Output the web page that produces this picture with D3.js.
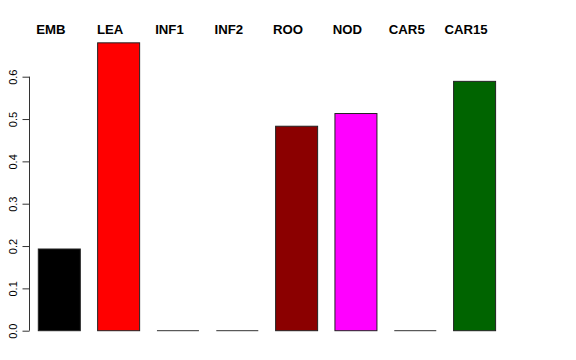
<!DOCTYPE html>
<html>
<head>
<meta charset="utf-8">
<script src="https://cdn.jsdelivr.net/npm/d3@7"></script>
<style>
  body { margin: 0; background: #fff; }
  text { font-family: "Liberation Sans", Arial, sans-serif; }
</style>
</head>
<body>
<div id="chart"></div>
<script>
// chart size
var width = 576;
var height = 360;

// data
var categories = ["EMB", "LEA", "INF1", "INF2", "ROO", "NOD", "CAR5", "CAR15"];
var values = [0.193, 0.680, 0, 0, 0.483, 0.513, 0, 0.589];
var barColors = ["#000000", "#ff0000", "#0000ff", "#ffa500", "#8b0000", "#ff00ff", "#00ffff", "#006400"];
var tickValues = [0, 0.1, 0.2, 0.3, 0.4, 0.5, 0.6];

var svg = d3.select("#chart").append("svg")
  .attr("width", width)
  .attr("height", height);

var x = d3.scaleBand()
  .domain(categories)
  .range([38.3, 495.6])
  .paddingInner(0.292)
  .paddingOuter(0);

var y = d3.scaleLinear()
  .domain([0, 0.6])
  .range([330.7, 76.7]);

// bars
svg.append("g").selectAll("rect")
  .data(categories)
  .enter().append("rect")
  .attr("x", d => x(d))
  .attr("y", (d, i) => y(values[i]))
  .attr("width", x.bandwidth())
  .attr("height", (d, i) => y(0) - y(values[i]))
  .attr("fill", (d, i) => barColors[i])
  .attr("stroke", "#222")
  .attr("stroke-width", 1);

// zero-height bars still show a line
svg.append("g").selectAll("line")
  .data(categories.filter((d, i) => values[i] == 0))
  .enter().append("line")
  .attr("x1", d => x(d))
  .attr("x2", d => x(d) + x.bandwidth())
  .attr("y1", y(0))
  .attr("y2", y(0))
  .attr("stroke", "#333")
  .attr("stroke-width", 1);

// labels above the bars
svg.append("g").selectAll("text")
  .data(categories)
  .enter().append("text")
  .attr("x", d => x(d) + x.bandwidth() / 2 - 8.5)
  .attr("y", 34)
  .attr("text-anchor", "middle")
  .style("font-weight", "bold")
  .style("font-size", "13.2px")
  .text(d => d);

// y axis
var yAxis = svg.append("g")
  .attr("transform", "translate(29.5,0)")
  .call(d3.axisLeft(y).tickValues(tickValues).tickSize(7).tickFormat(d3.format(".1f")));

yAxis.select(".domain").attr("stroke", "#333").attr("d", "M0," + y(0) + "V" + y(0.6));
yAxis.selectAll(".tick line").attr("stroke", "#333");
yAxis.selectAll(".tick text")
  .attr("x", 0)
  .attr("dy", 0)
  .attr("transform", "translate(-12.5,0) rotate(-90)")
  .attr("text-anchor", "middle")
  .style("font-size", "11px")
  .style("font-family", "Liberation Sans, Arial, sans-serif")
  .attr("fill", "#000");
</script>
</body>
</html>
